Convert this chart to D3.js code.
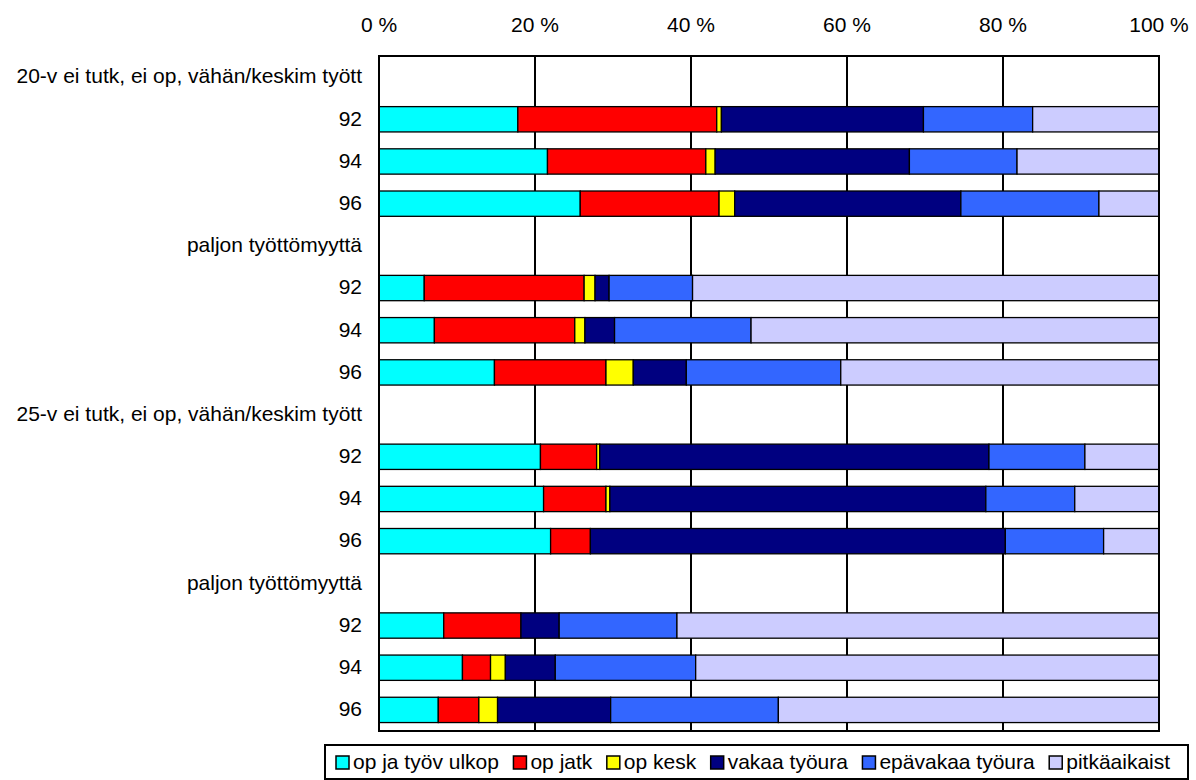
<!DOCTYPE html>
<html>
<head>
<meta charset="utf-8">
<script src="https://cdn.jsdelivr.net/npm/d3@7"></script>
<style>
  html, body { margin: 0; padding: 0; background: #fff; }
  svg { display: block; font-family: "Liberation Sans", Arial, sans-serif; }
</style>
</head>
<body>
<svg id="chart" width="1196" height="780"></svg>
<script>
// ---- data ----
const categories = [
  "20-v ei tutk, ei op, vähän/keskim tyött", "92", "94", "96",
  "paljon työttömyyttä", "92", "94", "96",
  "25-v ei tutk, ei op, vähän/keskim tyött", "92", "94", "96",
  "paljon työttömyyttä", "92", "94", "96"
];
const seriesNames = ["op ja työv ulkop", "op jatk", "op kesk", "vakaa työura", "epävakaa työura", "pitkäaikaist"];
const seriesColors = ["#00FFFF", "#FF0000", "#FFFF00", "#000080", "#3366FF", "#CCCCFF"];
const opJaTyovUlkop = [null, 17.8, 21.6, 25.8, null, 5.8, 7.1, 14.8, null, 20.7, 21.1, 22.0, null, 8.3, 10.7, 7.6];
const opJatk        = [null, 25.5, 20.3, 17.8, null, 20.5, 18.0, 14.3, null, 7.2, 8.0, 5.1, null, 9.9, 3.6, 5.2];
const opKesk        = [null, 0.6, 1.2, 2.0, null, 1.4, 1.3, 3.5, null, 0.4, 0.5, 0.0, null, 0.0, 1.9, 2.4];
const vakaaTyoura   = [null, 25.9, 24.9, 29.0, null, 1.8, 3.8, 6.8, null, 49.9, 48.2, 53.2, null, 4.9, 6.4, 14.5];
const epavakaa      = [null, 14.0, 13.8, 17.7, null, 10.7, 17.5, 19.8, null, 12.3, 11.4, 12.6, null, 15.1, 18.0, 21.5];
const pitkaaikaist  = [null, 16.2, 18.2, 7.7, null, 59.8, 52.3, 40.8, null, 9.5, 10.8, 7.1, null, 61.8, 59.4, 48.8];
const tickValues = [0, 20, 40, 60, 80, 100];
const tickLabels = ["0 %", "20 %", "40 %", "60 %", "80 %", "100 %"];

const seriesValues = [opJaTyovUlkop, opJatk, opKesk, vakaaTyoura, epavakaa, pitkaaikaist];

// ---- layout ----
const svg = d3.select("#chart");
const pLeft = 379, pRight = 1159, pTop = 56, pBottom = 731;
const fs = 21;

const x = d3.scaleLinear().domain([0, 100]).range([pLeft, pRight]);
const idx = categories.map((d, i) => i);
const y = d3.scaleBand().domain(idx).range([pTop, pBottom]).paddingInner(0.4).paddingOuter(0.2);

// build stacked rows
const rows = idx.map(i => {
  const obj = { i };
  seriesNames.forEach((s, k) => obj[s] = seriesValues[k][i] == null ? 0 : seriesValues[k][i]);
  obj.has = seriesValues[0][i] != null;
  return obj;
});
const stack = d3.stack().keys(seriesNames);
const stacked = stack(rows.filter(r => r.has));

// gridlines
svg.append("g").selectAll("line").data(tickValues.slice(1, -1)).join("line")
  .attr("x1", d => x(d)).attr("x2", d => x(d))
  .attr("y1", pTop).attr("y2", pBottom)
  .attr("stroke", "#000").attr("stroke-width", 2);

// bars
const g = svg.append("g");
stacked.forEach((layer, k) => {
  g.append("g").selectAll("rect").data(layer.filter(d => d[1] - d[0] > 0)).join("rect")
    .attr("x", d => x(d[0]))
    .attr("width", d => x(d[1]) - x(d[0]))
    .attr("y", d => y(d.data.i))
    .attr("height", y.bandwidth())
    .attr("fill", seriesColors[k])
    .attr("stroke", "#000")
    .attr("stroke-width", 1.3);
});

// plot border
svg.append("rect").attr("x", pLeft).attr("y", pTop)
  .attr("width", pRight - pLeft).attr("height", pBottom - pTop)
  .attr("fill", "none").attr("stroke", "#000").attr("stroke-width", 2);

// top axis labels
svg.append("g").selectAll("text").data(tickValues).join("text")
  .attr("x", d => x(d)).attr("y", 32)
  .attr("text-anchor", "middle")
  .attr("font-size", fs)
  .attr("fill", "#000")
  .text((d, i) => tickLabels[i]);

// category labels
svg.append("g").selectAll("text").data(idx).join("text")
  .attr("x", 362)
  .attr("y", i => y(i) + y.bandwidth() / 2)
  .attr("dy", "0.3em")
  .attr("text-anchor", "end")
  .attr("font-size", fs)
  .attr("fill", "#000")
  .text(i => categories[i]);

// legend
const legend = svg.append("g");
legend.append("rect").attr("x", 325).attr("y", 745).attr("width", 863).attr("height", 34)
  .attr("fill", "#fff").attr("stroke", "#000").attr("stroke-width", 2);
let lx = 336;
seriesNames.forEach((s, k) => {
  legend.append("rect").attr("x", lx).attr("y", 756).attr("width", 13).attr("height", 13)
    .attr("fill", seriesColors[k]).attr("stroke", "#000").attr("stroke-width", 1.5);
  const t = legend.append("text").attr("x", lx + 17).attr("y", 769)
    .attr("font-size", fs).attr("fill", "#000").text(s);
  lx = lx + 17 + t.node().getComputedTextLength() + 14.5;
});
</script>
</body>
</html>
